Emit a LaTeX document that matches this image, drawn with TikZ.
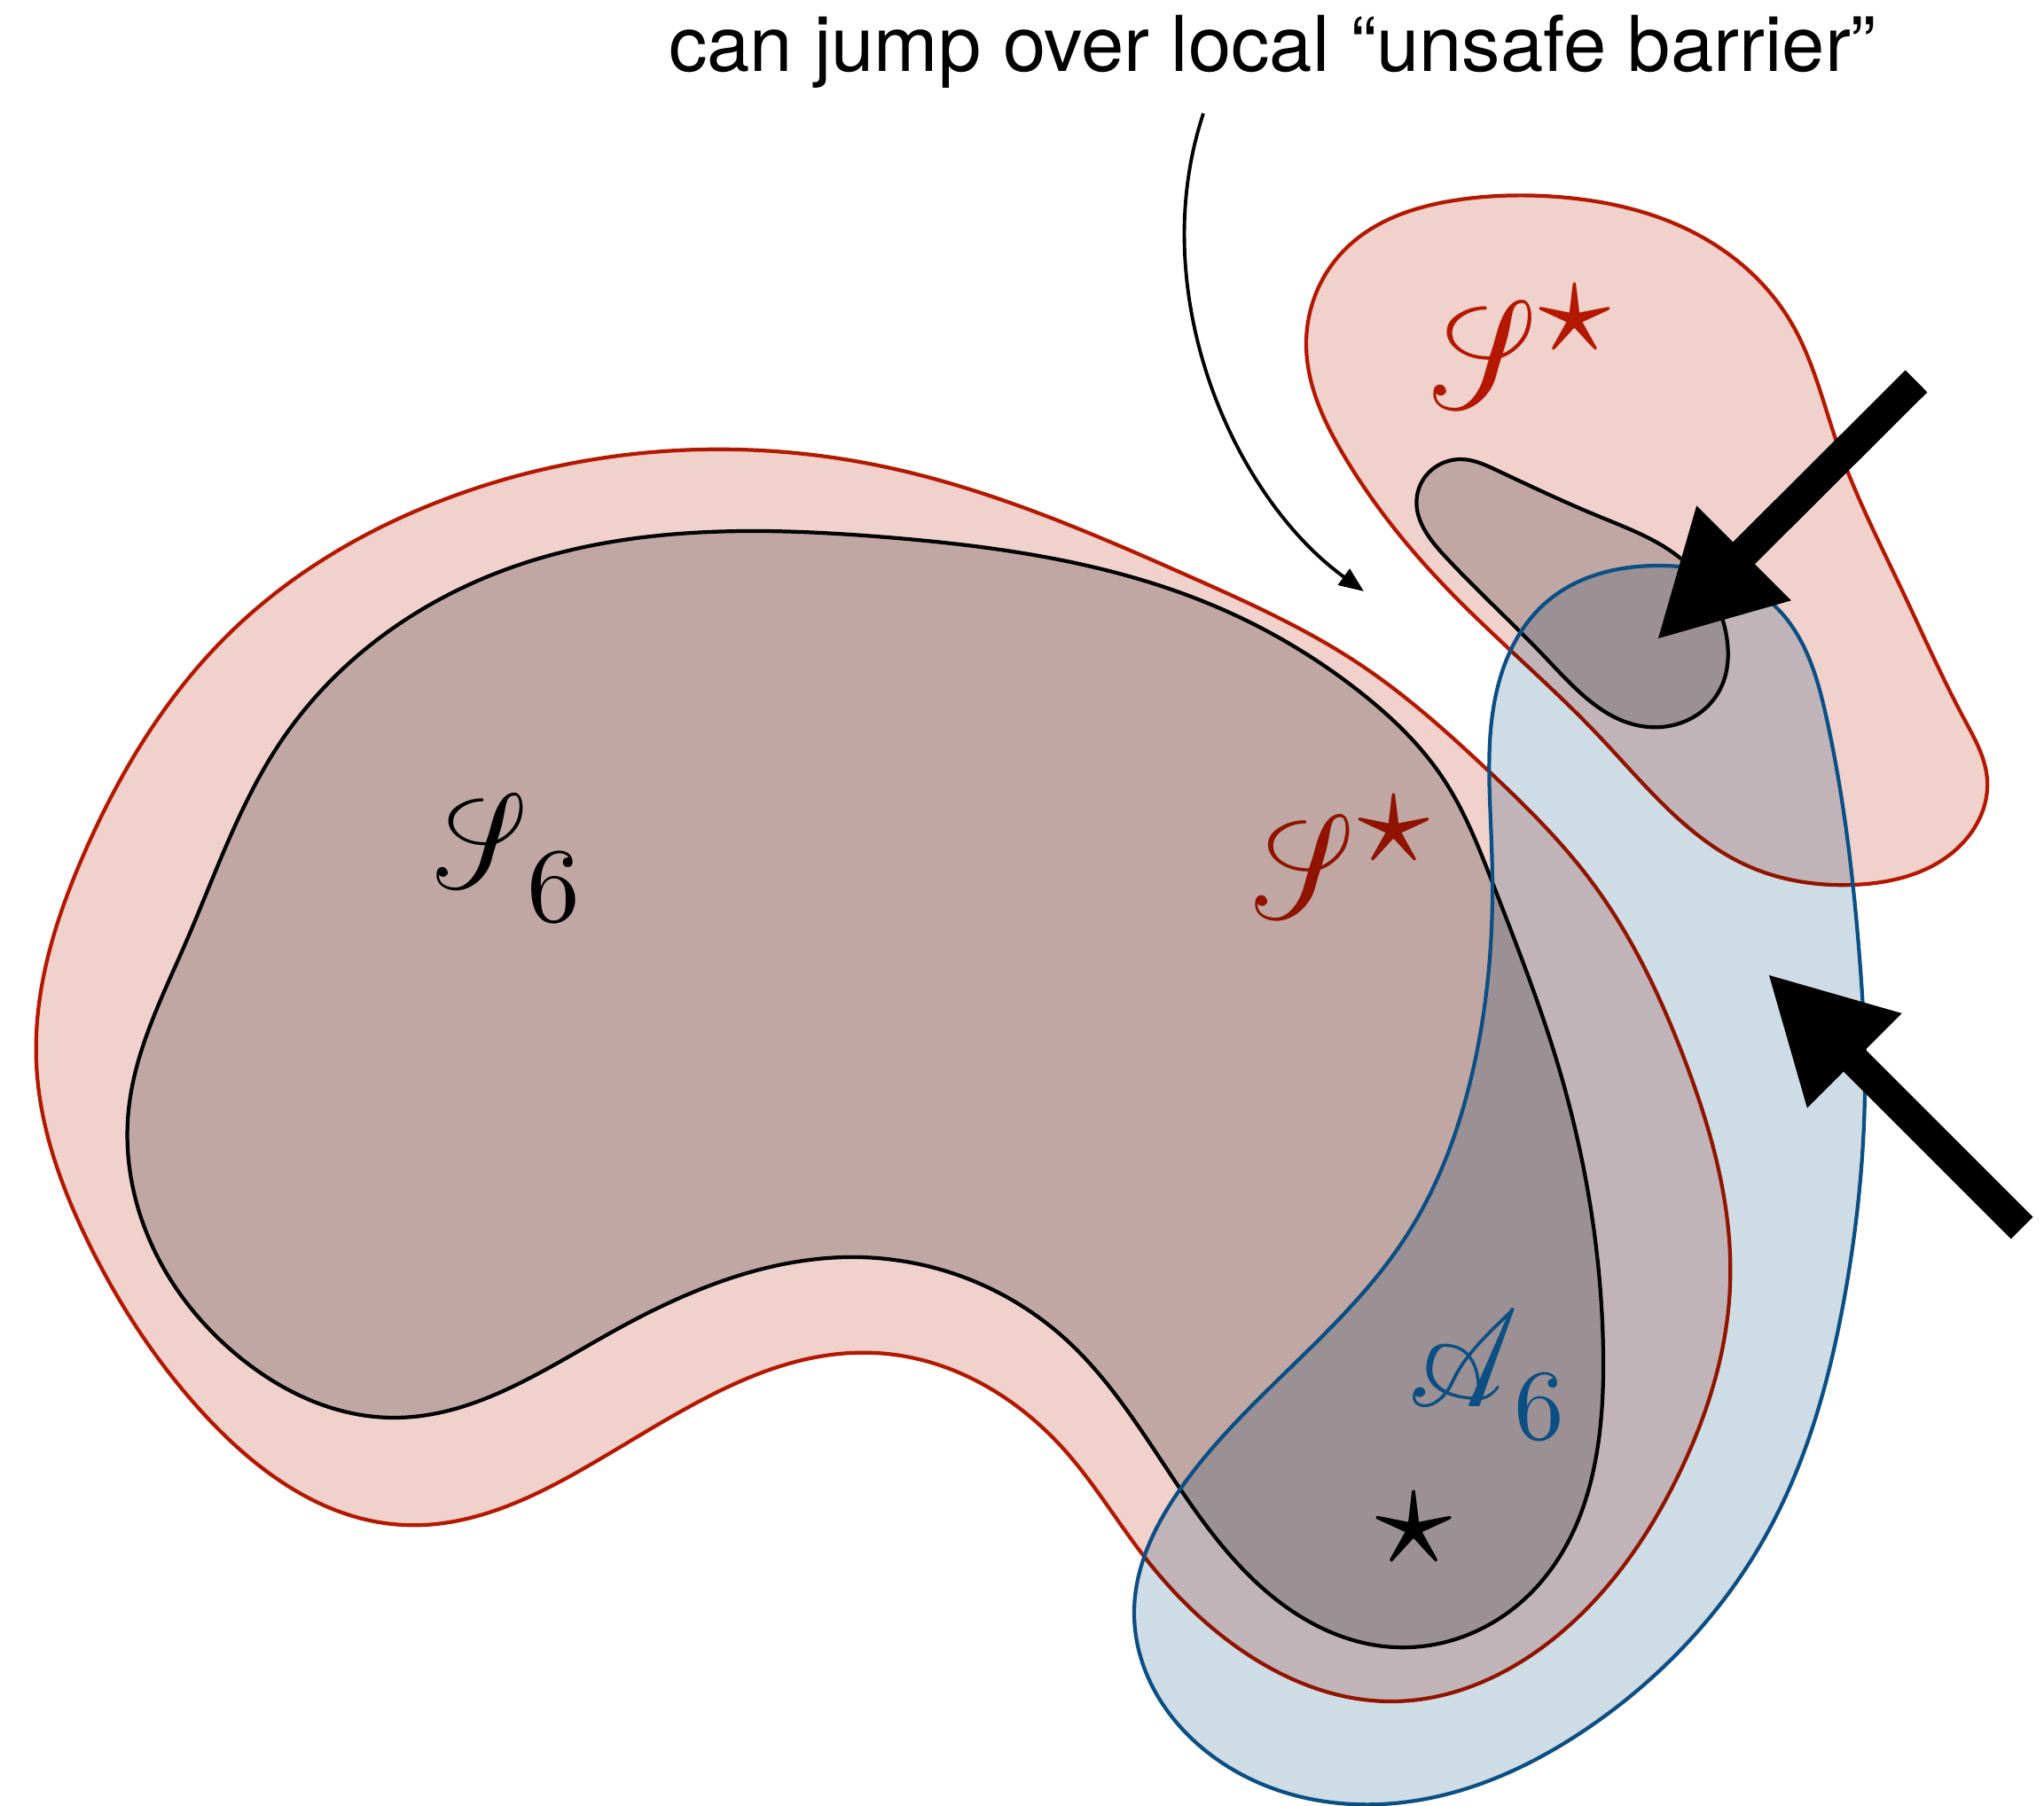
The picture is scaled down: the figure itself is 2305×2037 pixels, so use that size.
\documentclass[tikz,border=0pt]{standalone}
\usepackage{fontspec}
\usepackage{amsmath,amssymb}
\usepackage{mathrsfs}
\usepackage{xcolor}
\usetikzlibrary{arrows.meta,hobby}
\newfontfamily\notefont{TeX Gyre Heros}
\definecolor{sred}{HTML}{B41800}
\definecolor{sblue}{HTML}{0B4F84}

\begin{document}
\begin{tikzpicture}[x=0.01cm,y=-0.01cm,
  region/.style={draw=sred,fill=sred!20,line width=1.2pt},
  core/.style  ={draw=black,fill=black,fill opacity=0.2,line width=1.2pt},
  safe/.style  ={draw=sblue,line width=1.2pt,
                 preaction={fill=sblue!20,blend mode=multiply}},
  bigarr/.style={-{Triangle[length=1.39cm,width=1.40cm]},line width=0.35cm},
  thinarr/.style={-{Triangle[length=0.28cm,width=0.22cm]},line width=1.1pt},
  scr/.style   ={inner sep=0pt,anchor=base,xslant=-0.35,xscale=0.85},
  idx/.style   ={inner sep=0pt,anchor=base},
  starmark/.style={inner sep=0pt,anchor=center}
]
\useasboundingbox (0,0) rectangle (2305,2037);

%% Outer regions (S star)
\draw[region] plot[closed hobby] coordinates {
  (41,1199) (96,960) (255,718) (510,560) (791,507) (1000,527) (1341,650)
  (1533,749) (1678,869) (1793,992) (1900,1196) (1951,1450) (1894,1661)
  (1762,1840) (1570,1919) (1398,1860) (1289,1754) (1200,1635) (987,1526)
  (650,1661) (455,1720) (230,1595) (99,1400)};
\draw[region] plot[closed hobby] coordinates {
  (1473,387) (1515,283) (1647,225) (1756,222) (1917,266) (2020,364)
  (2072,501) (2146,668) (2215,811) (2241,880) (2215,949) (2089,998)
  (1974,978) (1802,829) (1630,662) (1515,513)};

\node[scr,text=sred,scale=4.7]      (slow)     at (1490,1036) {$\mathscr{S}$};
\node[starmark,text=sred,scale=4.6] (slowstar) at (1572,936)  {$\star$};
\node[scr,text=sred,scale=4.9]      (sup)      at (1694,461)  {$\mathscr{S}$};
\node[starmark,text=sred,scale=4.6] (supstar)  at (1776,360)  {$\star$};

%% Inner regions (S_6)
\draw[core] plot[closed hobby] coordinates {
  (145,1252) (210,1062) (319,833) (574,641) (842,599) (1000,606)
  (1380,688) (1533,780) (1628,879) (1684,998) (1756,1198) (1808,1529)
  (1729,1794) (1574,1858) (1451,1813) (1332,1681) (1200,1509) (968,1418)
  (689,1503) (444,1599) (268,1529) (168,1397)};
\draw[core] plot[closed hobby] coordinates {
  (1647,518) (1687,530) (1802,582) (1899,633) (1948,725) (1940,777)
  (1859,820) (1744,743) (1630,628) (1598,559)};

\node[scr,scale=4.3] (ssix)    at (561,1002) {$\mathscr{S}$};
\node[idx,scale=3.4] (ssixidx) at (624,1040) {$6$};

%% Safe set A_6
\draw[safe] plot[closed hobby] coordinates {
  (1871,638) (2003,685) (2060,811) (2097,1080) (2103,1198) (2080,1463)
  (1994,1727) (1795,1946) (1557,2035) (1365,1979) (1279,1820) (1332,1678)
  (1584,1397) (1663,1198) (1683,1000) (1681,926) (1687,783) (1744,679)};

\node[inner sep=0pt,anchor=base,xslant=-0.2,xscale=0.9,text=sblue,scale=4.4]
  (asix) at (1662,1586) {$\mathscr{A}$};
\node[idx,text=sblue,scale=3.22] (asixidx) at (1736,1623) {$6$};
\node[starmark,scale=4.9] (opt) at (1595,1724) {$\star$};

%% Arrows
\coordinate (upfrom) at (2161,430);
\coordinate (upto)   at (1868,722);
\coordinate (lofrom) at (2280,1385);
\coordinate (loto)   at (1993,1098);
\draw[bigarr] (upfrom) -- (upto);
\draw[bigarr] (lofrom) -- (loto);

\node[anchor=base,inner sep=0pt,font=\notefont\fontsize{24.7}{30}\selectfont]
  (note) at (1435,81) {can jump over local “unsafe barrier”};
\coordinate (jumpfrom) at (1357,128);
\coordinate (jumpto)   at (1538,667);
\draw[thinarr] (jumpfrom) .. controls (1290,330) and (1390,560) .. (jumpto);
\end{tikzpicture}
\end{document}
